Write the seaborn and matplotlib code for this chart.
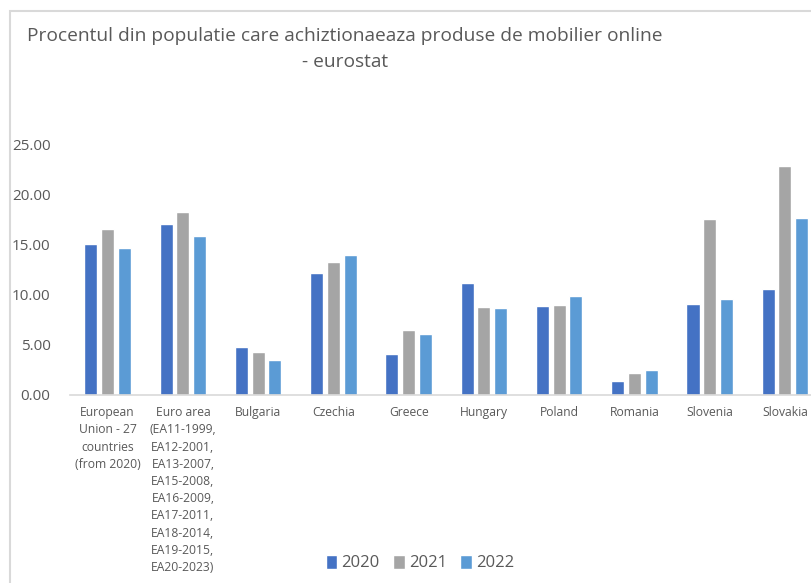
import pandas as pd
import matplotlib.pyplot as plt
import seaborn as sns
from matplotlib.patches import Rectangle

# Data
countries = [
    "European\nUnion - 27\ncountries\n(from 2020)",
    "Euro area\n(EA11-1999,\nEA12-2001,\nEA13-2007,\nEA15-2008,\nEA16-2009,\nEA17-2011,\nEA18-2014,\nEA19-2015,\nEA20-2023)",
    "Bulgaria", "Czechia", "Greece", "Hungary", "Poland", "Romania", "Slovenia", "Slovakia",
]
years = ["2020", "2021", "2022"]
val_2020 = [15.1, 17.1, 4.8, 12.2, 4.1, 11.2, 8.9, 1.4, 9.1, 10.6]
val_2021 = [16.6, 18.3, 4.3, 13.3, 6.5, 8.8, 9.0, 2.2, 17.6, 22.9]
val_2022 = [14.7, 15.9, 3.5, 14.0, 6.1, 8.7, 9.9, 2.5, 9.6, 17.7]
colors = ["#4472C4", "#A5A5A5", "#5B9BD5"]

# Long format for seaborn
rows = []
for year, vals in zip(years, [val_2020, val_2021, val_2022]):
    for c, v in zip(countries, vals):
        rows.append({"country": c, "year": year, "value": v})
df = pd.DataFrame(rows)

sns.set_style("white")
plt.rcParams["font.family"] = ["Open Sans", "DejaVu Sans"]
text_color = "#595959"

fig = plt.figure(figsize=(8.11, 5.83), dpi=100)
ax = fig.add_axes([70 / 811, 1 - 395 / 583, 752.6 / 811, 250 / 583])

sns.barplot(data=df, x="country", y="value", hue="year", palette=colors,
            width=0.667, gap=0.22, ax=ax, saturation=1, legend=True)

ax.set_ylim(0, 25)
ax.set_yticks([0, 5, 10, 15, 20, 25])
ax.set_yticklabels([f"{t:.2f}" for t in [0, 5, 10, 15, 20, 25]])
ax.set_xlabel("")
ax.set_ylabel("")
for s in ["top", "right", "left"]:
    ax.spines[s].set_visible(False)
ax.spines["bottom"].set_color("#d9d9d9")
ax.spines["bottom"].set_linewidth(1.2)
ax.tick_params(axis="y", length=0, pad=14, labelsize=11, labelcolor=text_color)
ax.tick_params(axis="x", length=0, pad=8, labelsize=8.7, labelcolor=text_color)
for lbl in ax.get_xticklabels():
    lbl.set_linespacing(1.42)
    lbl.set_verticalalignment("top")

# Legend at the bottom
ax.legend(loc="center", bbox_to_anchor=(420 / 811, 1 - 563 / 583),
          bbox_transform=fig.transFigure, ncol=3, frameon=False,
          fontsize=12, handlelength=0.7, handleheight=0.9, handletextpad=0.25,
          columnspacing=0.8, labelcolor=text_color)

# Title
fig.text(345 / 811, 1 - 49 / 583,
         "Procentul din populatie care achiztionaeaza produse de mobilier online\n- eurostat",
         ha="center", va="center", multialignment="center", fontsize=13.8,
         color=text_color, linespacing=1.55)

# Chart border
fig.patches.append(Rectangle((10 / 811, -0.01), 1.0, 1 - 11 / 583 + 0.01,
                             transform=fig.transFigure, fill=False,
                             edgecolor="#d9d9d9", linewidth=1.5))

fig.savefig("out.png", dpi=100)
